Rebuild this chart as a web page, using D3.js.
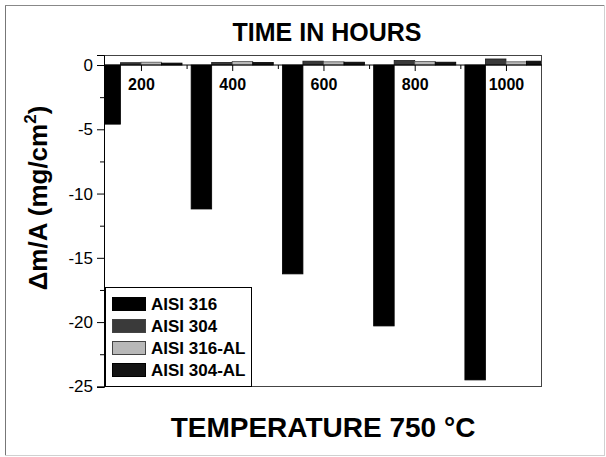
<!DOCTYPE html>
<html>
<head>
<meta charset="utf-8">
<script src="https://cdn.jsdelivr.net/npm/d3@7"></script>
<style>
  html, body { margin: 0; padding: 0; background: #fff; }
  svg { display: block; font-family: "Liberation Sans", Arial, sans-serif; }
</style>
</head>
<body>
<svg id="chart" width="606" height="457"></svg>
<script>
// Exposure time (hours) for each group of bars
const hours = [200, 400, 600, 800, 1000];
// Mass change per unit area (mg/cm^2) for each alloy
const seriesNames = ["AISI 316", "AISI 304", "AISI 316-AL", "AISI 304-AL"];
const aisi316   = [-4.6, -11.2, -16.25, -20.3, -24.5];
const aisi304   = [0.18, 0.2, 0.3, 0.35, 0.47];
const aisi316AL = [0.22, 0.28, 0.25, 0.28, 0.25];
const aisi304AL = [0.15, 0.2, 0.22, 0.22, 0.3];
const yTicks = [0, -5, -10, -15, -20, -25];

const seriesValues = [aisi316, aisi304, aisi316AL, aisi304AL];
const fills = ["#000000", "#3a3a3a", "#b8b8b8", "#141414"];
const strokes = ["#000000", "#1a1a1a", "#555555", "#000000"];

const svg = d3.select("#chart");
const plot = { left: 104, right: 542, top: 55, bottom: 387 };

// outer frame
svg.append("line").attr("x1", 5.5).attr("x2", 5.5).attr("y1", 5).attr("y2", 456).attr("stroke", "#777");
svg.append("line").attr("x1", 5).attr("x2", 605).attr("y1", 5.5).attr("y2", 5.5).attr("stroke", "#888");
svg.append("line").attr("x1", 5).attr("x2", 605).attr("y1", 455.5).attr("y2", 455.5).attr("stroke", "#d0d0d0");
svg.append("line").attr("x1", 604.5).attr("x2", 604.5).attr("y1", 5).attr("y2", 456).attr("stroke", "#d0d0d0");

const x = d3.scaleLinear().domain([119, 1079]).range([plot.left, plot.right]);
const y = d3.scaleLinear().domain([-25.05, 0.78]).range([plot.bottom, plot.top]);
const barW = x(45) - x(0);

svg.append("clipPath").attr("id", "plotClip")
  .append("rect")
  .attr("x", plot.left).attr("y", plot.top)
  .attr("width", plot.right - plot.left).attr("height", plot.bottom - plot.top);

const bars = svg.append("g").attr("clip-path", "url(#plotClip)");
seriesValues.forEach((vals, si) => {
  bars.selectAll(null)
    .data(vals.map((v, i) => ({ h: hours[i], v })))
    .enter().append("rect")
    .attr("x", d => x(d.h) + (si - 2) * barW)
    .attr("width", barW)
    .attr("y", d => y(Math.max(0, d.v)))
    .attr("height", d => Math.abs(y(d.v) - y(0)))
    .attr("fill", fills[si])
    .attr("stroke", strokes[si])
    .attr("stroke-width", 0.8);
});

// plot box
svg.append("rect")
  .attr("x", plot.left + 0.5).attr("y", plot.top + 0.5)
  .attr("width", plot.right - plot.left - 1).attr("height", plot.bottom - plot.top - 1)
  .attr("fill", "none").attr("stroke", "#444").attr("stroke-width", 1);

// plain hyphen-minus for negative tick labels
const fmt = d => String(d);

// y axis
const yAxis = d3.axisLeft(y).tickValues(yTicks).tickSize(7).tickPadding(4).tickFormat(fmt);
const gy = svg.append("g").attr("transform", `translate(${plot.left},0)`).call(yAxis);
gy.select(".domain").attr("stroke", "#000");
gy.selectAll(".tick line").attr("stroke", "#000");
gy.selectAll(".tick text").attr("font-size", 17).attr("fill", "#000")
  .attr("font-family", "'Liberation Sans', Arial, sans-serif");
const minorY = d3.axisLeft(y).tickValues([-2.5, -7.5, -12.5, -17.5, -22.5]).tickSize(4).tickFormat("");
const gym = svg.append("g").attr("transform", `translate(${plot.left},0)`).call(minorY);
gym.select(".domain").remove();
gym.selectAll(".tick line").attr("stroke", "#000");

// x axis along zero line
const xAxis = d3.axisBottom(x).tickValues(hours).tickSize(6).tickPadding(8).tickFormat(fmt);
const gx = svg.append("g").attr("transform", `translate(0,${y(0)})`).call(xAxis);
gx.select(".domain").attr("stroke", "#000").attr("d", `M${plot.left},0H${plot.right}`);
gx.selectAll(".tick line").attr("stroke", "#000");
gx.selectAll(".tick text").attr("font-size", 16).attr("font-weight", "bold").attr("fill", "#000")
  .attr("font-family", "'Liberation Sans', Arial, sans-serif");
const minorX = d3.axisBottom(x).tickValues([300, 500, 700, 900]).tickSize(4).tickFormat("");
const gxm = svg.append("g").attr("transform", `translate(0,${y(0)})`).call(minorX);
gxm.select(".domain").remove();
gxm.selectAll(".tick line").attr("stroke", "#000");

// legend
const leg = svg.append("g");
leg.append("rect").attr("x", 105.5).attr("y", 287.5).attr("width", 146).attr("height", 99)
  .attr("fill", "#fff").attr("stroke", "#000").attr("stroke-width", 1);
seriesNames.forEach((name, i) => {
  const cy = 304 + i * 22;
  leg.append("rect").attr("x", 112.5).attr("y", cy - 6.5).attr("width", 33).attr("height", 13)
    .attr("fill", fills[i]).attr("stroke", strokes[i] === "#000000" ? "#000" : "#444").attr("stroke-width", 1);
  leg.append("text").attr("x", 151).attr("y", cy + 6).attr("font-size", 17).attr("font-weight", "bold")
    .attr("fill", "#000").text(name);
});

// titles
svg.append("text").attr("x", 327).attr("y", 41).attr("text-anchor", "middle")
  .attr("font-size", 25).attr("font-weight", "bold").text("TIME IN HOURS");
svg.append("text").attr("x", 323).attr("y", 437).attr("text-anchor", "middle")
  .attr("font-size", 28).attr("font-weight", "bold").text("TEMPERATURE 750 °C");

const yl = svg.append("text").attr("transform", "translate(47,198) rotate(-90)")
  .attr("text-anchor", "middle").attr("font-size", 26).attr("font-weight", "bold");
yl.append("tspan").text("\u0394m/A (mg/cm");
yl.append("tspan").attr("font-size", 17).attr("dy", -11).text("2");
yl.append("tspan").attr("dy", 11).text(")");
</script>
</body>
</html>
